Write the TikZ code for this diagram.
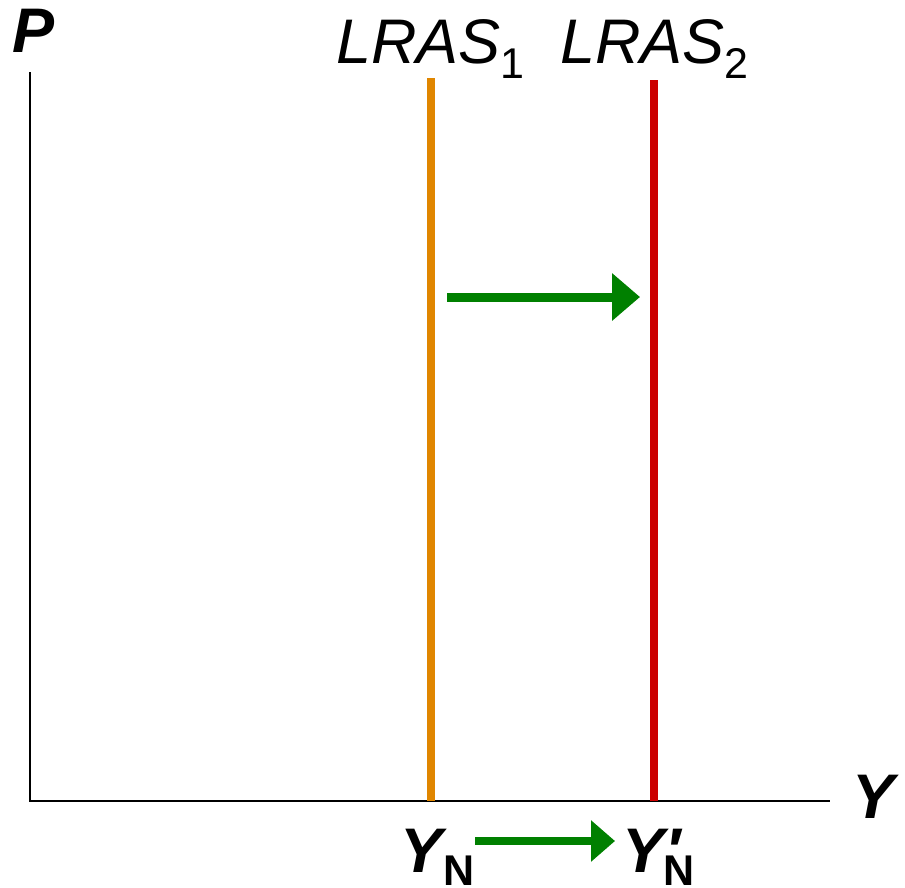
\documentclass[tikz,border=0pt]{standalone}
\usepackage{fontspec}
\setmainfont{Liberation Sans}
\usetikzlibrary{arrows.meta}
\definecolor{lorange}{HTML}{E08600}
\definecolor{lred}{HTML}{CC0000}
\definecolor{lgreen}{HTML}{008000}
\newcommand{\bigfs}{\fontsize{63}{70}\selectfont}
\newcommand{\subfs}{\fontsize{43}{46}\selectfont}
\begin{document}
\begin{tikzpicture}[x=1pt,y=-1pt,
  axis/.style={line width=2.6pt,black},
  curveline/.style={line width=8pt},
  shift arrow/.style={line width=9pt,lgreen,-{Triangle[length=28pt,width=46pt]}},
  shift arrow small/.style={line width=8pt,lgreen,-{Triangle[length=24pt,width=40pt]}},
  lbl/.style={inner sep=0pt,anchor=base west}]
\useasboundingbox (0,0) rectangle (905,887);
% axes
\coordinate (ytop) at (30,72);
\coordinate (origin) at (30,801);
\coordinate (xend) at (830,801);
\draw[axis] (ytop) -- (origin) -- (xend);
% LRAS lines
\coordinate (l1top) at (431,78);
\coordinate (l1bot) at (431,801);
\coordinate (l2top) at (654,80);
\coordinate (l2bot) at (654,801);
\draw[curveline,lorange] (l1top) -- (l1bot);
\draw[curveline,lred] (l2top) -- (l2bot);
% arrows
\coordinate (a1s) at (447,297);
\coordinate (a1e) at (640,297);
\draw[shift arrow] (a1s) -- (a1e);
\coordinate (a2s) at (475,841);
\coordinate (a2e) at (615,841);
\draw[shift arrow small] (a2s) -- (a2e);
% labels
\node[lbl] (P) at (12,52) {\bigfs\bfseries\itshape P};
\node[lbl] (Yax) at (852,818) {\bigfs\bfseries\itshape Y};
\node[lbl] (lras1) at (336,63) {\bigfs\itshape LRAS\raisebox{-15pt}{\upshape\subfs 1}};
\node[lbl] (lras2) at (560,63) {\bigfs\itshape LRAS\raisebox{-15pt}{\upshape\subfs 2}};
\node[lbl] (yn) at (400,872) {\bigfs\bfseries\itshape Y};
\node[lbl] (ynsub) at (443,885) {\subfs\bfseries N};
\node[lbl] (ynp) at (622,872) {\bigfs\bfseries\itshape Y\kern1pt\raisebox{0pt}{′}};
\node[lbl] (ynpsub) at (663,885) {\subfs\bfseries N};
\end{tikzpicture}
\end{document}
